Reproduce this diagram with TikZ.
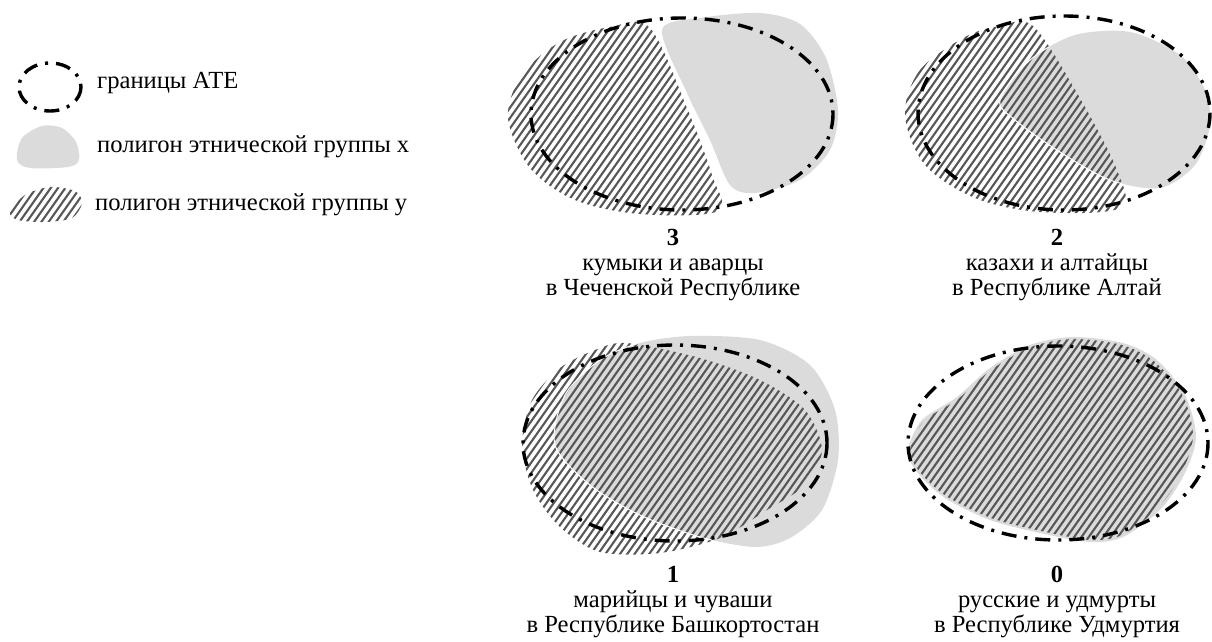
\documentclass[tikz,border=0pt]{standalone}
\usepackage{fontspec}
\setmainfont{Liberation Serif}
\usetikzlibrary{positioning}

\definecolor{grpx}{gray}{0.86}
\definecolor{hatchc}{gray}{0.34}

\tikzset{
  ate/.style={line width=3.4pt,dash pattern=on 15pt off 8pt on 3pt off 8pt},
  grpxfill/.style={fill=grpx,draw=none},
  hatchline/.style={line width=2.1pt,color=hatchc},
  legtext/.style={anchor=west,font=\fontsize{24.6}{25}\selectfont,inner sep=0pt},
  captext/.style={align=center,font=\fontsize{24.6}{25}\selectfont,inner sep=0pt}
}

% diagonal hatching around a centre, inside the current clip
\newcommand{\hatchat}[2]{%
  \foreach \k in {-45,...,45}
    \draw[hatchline] ({#1+\k*7.3-120},{#2+170}) -- ++(240,-340);
}

\begin{document}
\begin{tikzpicture}[x=1pt,y=-1pt]
	\useasboundingbox (0,0) rectangle (1212,641);

	% legend
	\draw[ate] (50,87) ellipse[x radius=31,y radius=24];
	\node[legtext] (l1) at (97,83) {границы АТЕ};
	\fill[grpx] plot[smooth cycle] coordinates {(17,160) (22,138) (42,126) (62,128) (76,142) (79,160) (68,167) (30,168)};
	\node[legtext] (l2) at (97,147) {полигон этнической группы х};
	\begin{scope}
		\clip plot[smooth cycle] coordinates {(10,212) (25,195) (50,187) (75,191) (82,203) (72,218) (45,222) (18,220)};
		\hatchat{46}{205}
	\end{scope}
	\node[legtext] (l3) at (95,205) {полигон этнической группы у};

	% panel 3
	\fill[grpx] plot[smooth cycle] coordinates {(662,30) (700,18) (760,13) (800,24) (826,58) (838,110) (830,150) (800,180) (755,193) (730,185) (710,140) (687,93)};
	\begin{scope}
		\clip plot[smooth cycle,tension=0.55] coordinates {(650,28) (687,108) (712,175) (718,211) (640,214) (575,200) (530,168) (508,118) (522,75) (560,42) (610,27)};
		\hatchat{640}{120}
	\end{scope}
	\draw[ate] (682,114) ellipse[x radius=151,y radius=96];
	\node[captext] (c3) at (673,265) {\textbf{3}\\кумыки и аварцы\\в Чеченской Республике};

	% panel 2
	\fill[grpx] plot[smooth cycle] coordinates {(1000,100) (1030,60) (1075,35) (1130,32) (1180,55) (1205,90) (1210,125) (1195,165) (1160,188) (1110,180) (1060,152) (1015,120)};
	\begin{scope}
		\clip plot[smooth cycle,tension=0.55] coordinates {(1033,26) (1077,93) (1117,170) (1120,208) (1040,212) (975,198) (925,165) (905,115) (920,70) (965,37) (1000,26)};
		\hatchat{1010}{120}
		\draw[white,line width=1pt] plot[smooth cycle] coordinates {(1000,100) (1030,60) (1075,35) (1130,32) (1180,55) (1205,90) (1210,125) (1195,165) (1160,188) (1110,180) (1060,152) (1015,120)};
	\end{scope}
	\draw[ate] (1064,113) ellipse[x radius=146,y radius=97];
	\node[captext] (c2) at (1057,265) {\textbf{2}\\казахи и алтайцы\\в Республике Алтай};

	% panel 1
	\fill[grpx] plot[smooth cycle] coordinates {(640,343) (690,336) (760,340) (810,365) (835,410) (838,460) (822,510) (790,538) (755,547) (700,537) (640,515) (590,485) (555,445) (565,395) (600,360)};
	\begin{scope}
		\clip plot[smooth cycle] coordinates {(627,343) (700,358) (760,380) (805,410) (822,450) (805,485) (767,510) (720,538) (660,553) (600,552) (560,527) (533,490) (522,445) (532,400) (560,368) (595,350)};
		\hatchat{675}{445}
		\draw[white,line width=1pt] plot[smooth cycle] coordinates {(640,343) (690,336) (760,340) (810,365) (835,410) (838,460) (822,510) (790,538) (755,547) (700,537) (640,515) (590,485) (555,445) (565,395) (600,360)};
	\end{scope}
	\draw[ate] (675,443) ellipse[x radius=152,y radius=98];
	\node[captext] (c1) at (673,602) {\textbf{1}\\марийцы и чуваши\\в Республике Башкортостан};

	% panel 0
	\fill[grpx] plot[smooth cycle] coordinates {(908,450) (922,420) (957,397) (990,368) (1030,345) (1073,337) (1123,343) (1157,360) (1185,395) (1196,437) (1184,475) (1160,510) (1123,537) (1090,542) (1040,533) (990,520) (945,498) (917,472)};
	\begin{scope}
		\clip plot[smooth cycle] coordinates {(910,450) (924,421) (958,399) (991,370) (1031,347) (1073,339) (1122,345) (1155,362) (1183,396) (1193,437) (1181,474) (1158,508) (1122,535) (1090,540) (1041,531) (991,518) (946,496) (919,471)};
		\hatchat{1055}{440}
	\end{scope}
	\draw[ate] (1058,443) ellipse[x radius=150,y radius=97];
	\node[captext] (c0) at (1057,602) {\textbf{0}\\русские и удмурты\\в Республике Удмуртия};

\end{tikzpicture}
\end{document}
